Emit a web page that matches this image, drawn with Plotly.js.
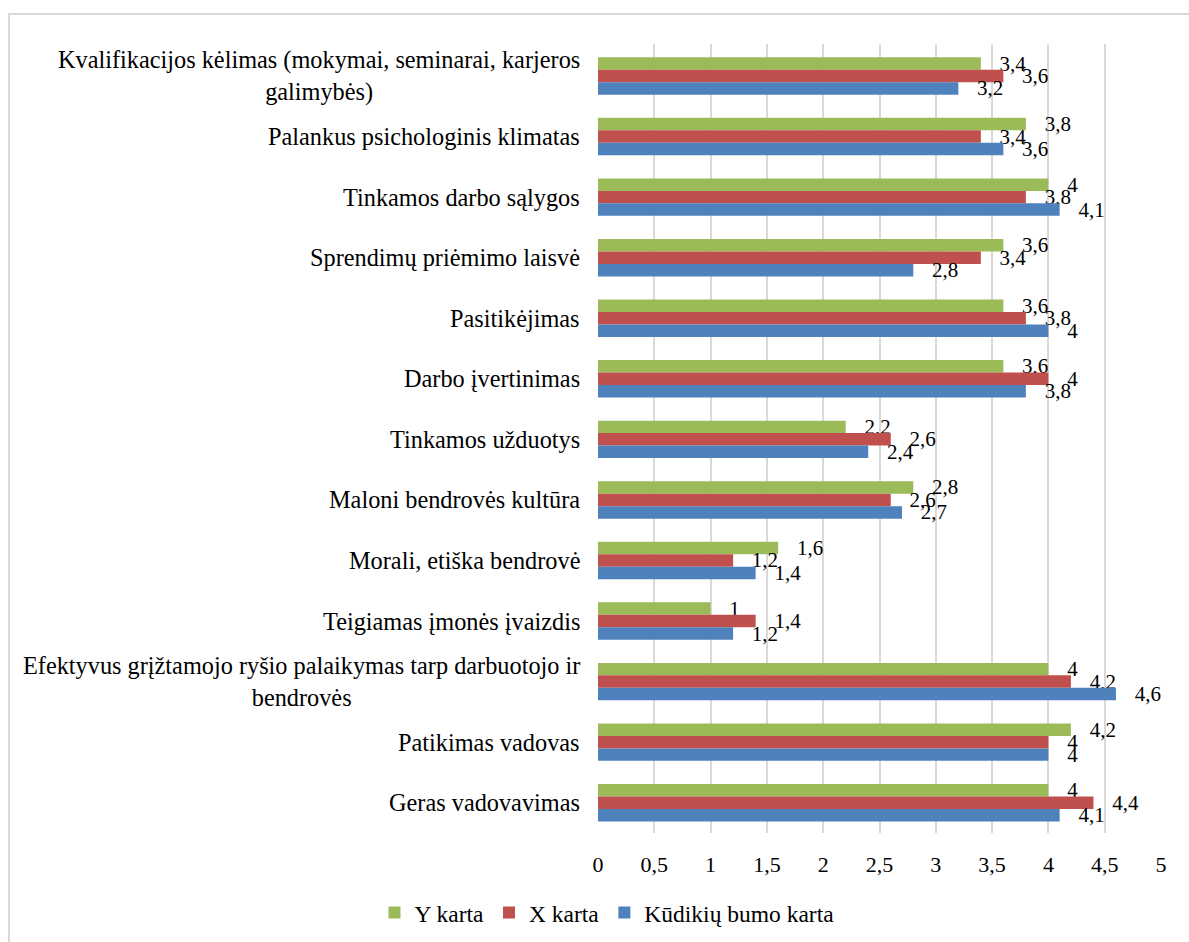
<!DOCTYPE html>
<html>
<head>
<meta charset="utf-8">
<script src="https://cdn.plot.ly/plotly-3.0.1.min.js"></script>
<style>
  html, body { margin: 0; padding: 0; background: #ffffff; overflow: hidden; }
  #frame { position: absolute; left: 8px; top: 13px; width: 1300px; height: 1100px;
           border-top: 2px solid #d9d9d9; border-left: 2px solid #d9d9d9; }
  #chart { position: absolute; left: 0; top: 0; width: 1189px; height: 942px; }
</style>
</head>
<body>
<div id="frame"></div>
<div id="chart"></div>
<script>
// Categories, top to bottom
const categories = [
  "Kvalifikacijos kėlimas (mokymai, seminarai, karjeros galimybės)",
  "Palankus psichologinis klimatas",
  "Tinkamos darbo sąlygos",
  "Sprendimų priėmimo laisvė",
  "Pasitikėjimas",
  "Darbo įvertinimas",
  "Tinkamos užduotys",
  "Maloni bendrovės kultūra",
  "Morali, etiška bendrovė",
  "Teigiamas įmonės įvaizdis",
  "Efektyvus grįžtamojo ryšio palaikymas tarp darbuotojo ir bendrovės",
  "Patikimas vadovas",
  "Geras vadovavimas"
];

// Wrapped category labels drawn left of the bars
const categoryLabels = [
  "Kvalifikacijos kėlimas (mokymai, seminarai, karjeros<br>galimybės)",
  "Palankus psichologinis klimatas",
  "Tinkamos darbo sąlygos",
  "Sprendimų priėmimo laisvė",
  "Pasitikėjimas",
  "Darbo įvertinimas",
  "Tinkamos užduotys",
  "Maloni bendrovės kultūra",
  "Morali, etiška bendrovė",
  "Teigiamas įmonės įvaizdis",
  "Efektyvus grįžtamojo ryšio palaikymas tarp darbuotojo ir<br>bendrovės",
  "Patikimas vadovas",
  "Geras vadovavimas"
];

const seriesNames = ["Y karta", "X karta", "Kūdikių bumo karta"];
const yKarta  = [3.4, 3.8, 4.0, 3.6, 3.6, 3.6, 2.2, 2.8, 1.6, 1.0, 4.0, 4.2, 4.0];
const xKarta  = [3.6, 3.4, 3.8, 3.4, 3.8, 4.0, 2.6, 2.6, 1.2, 1.4, 4.2, 4.0, 4.4];
const kudikiu = [3.2, 3.6, 4.1, 2.8, 4.0, 3.8, 2.4, 2.7, 1.4, 1.2, 4.6, 4.0, 4.1];
const seriesColors = ["#9bbb59", "#c0504d", "#4f81bd"];

const xTicks = [0, 0.5, 1, 1.5, 2, 2.5, 3, 3.5, 4, 4.5, 5];

const FONT = "Liberation Serif, Times New Roman, serif";
const PAD = "\u00a0\u00a0\u00a0";

// value label text with decimal comma
const fmt = v => PAD + String(v).replace(".", ",");

const traces = [yKarta, xKarta, kudikiu].map((vals, i) => ({
  type: "bar",
  orientation: "h",
  name: seriesNames[i],
  x: vals,
  y: categories,
  marker: { color: seriesColors[i] },
  text: vals.map(fmt),
  textposition: "outside",
  constraintext: "none",
  cliponaxis: false,
  textfont: { family: FONT, size: 21, color: "#000000" },
  hoverinfo: "x+name"
}));

const annotations = categories.map((c, i) => ({
  xref: "paper", yref: "y",
  x: 0, y: c,
  xanchor: "right", yanchor: "middle",
  xshift: -16,
  align: "center",
  showarrow: false,
  text: categoryLabels[i],
  font: { family: FONT, size: 24.3, color: "#000000" }
}));

const layout = {
  width: 1189,
  height: 942,
  margin: { l: 598, r: 28, t: 44, b: 109, pad: 0 },
  paper_bgcolor: "rgba(0,0,0,0)",
  plot_bgcolor: "rgba(0,0,0,0)",
  separators: ", ",
  barmode: "group",
  bargap: 0.382,
  bargroupgap: 0,
  font: { family: FONT, size: 21, color: "#000000" },
  xaxis: {
    range: [0, 5],
    tickvals: xTicks,
    ticktext: xTicks.map(v => String(v).replace(".", ",")),
    showgrid: true,
    gridcolor: "#d9d9d9",
    gridwidth: 2,
    zeroline: false,
    showline: false,
    ticks: "",
    ticklabelstandoff: 16,
    tickfont: { family: FONT, size: 22, color: "#000000" },
    fixedrange: true
  },
  yaxis: {
    type: "category",
    categoryorder: "array",
    categoryarray: categories,
    autorange: "reversed",
    showticklabels: false,
    showgrid: false,
    zeroline: false,
    showline: false,
    ticks: "",
    fixedrange: true
  },
  showlegend: true,
  legend: {
    orientation: "h",
    xref: "container", yref: "container",
    x: 0.5105, xanchor: "center",
    y: 0.031, yanchor: "middle",
    font: { family: FONT, size: 23.5, color: "#000000" },
    itemwidth: 30,
    tracegroupgap: 0,
    bgcolor: "rgba(0,0,0,0)"
  },
  annotations: annotations
};

Plotly.newPlot("chart", traces, layout, { displayModeBar: false, staticPlot: true });
</script>
</body>
</html>
